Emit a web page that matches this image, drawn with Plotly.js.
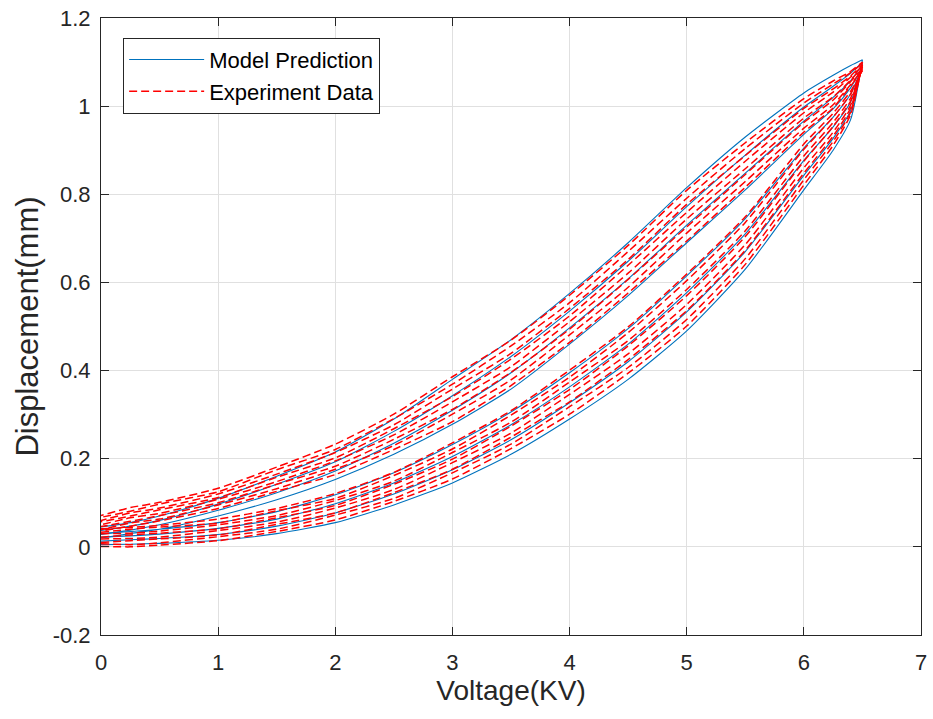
<!DOCTYPE html>
<html>
<head>
<meta charset="utf-8">
<script src="https://cdn.plot.ly/plotly-3.0.1.min.js"></script>
<style>html,body{margin:0;padding:0;background:#fff;}#chart{width:933px;height:719px;}</style>
</head>
<body>
<div id="chart"></div>
<script>
// Voltage grid (KV) shared by every branch
var xVolt = [0, 0.25, 0.5, 1, 1.5, 2, 2.5, 3, 3.5, 4, 4.5, 5, 5.5, 6, 6.25, 6.4, 6.5];

// Model prediction: ascending (lower) branches
var blueAsc1 = [0.005,0.006,0.008,0.015,0.030,0.055,0.095,0.145,0.210,0.290,0.380,0.490,0.630,0.810,0.900,0.970,1.105];
var blueAsc2 = [0.013,0.016,0.019,0.028,0.047,0.077,0.120,0.175,0.243,0.327,0.420,0.533,0.670,0.843,0.927,0.990,1.100];
var blueAsc3 = [0.022,0.025,0.029,0.042,0.063,0.098,0.145,0.205,0.277,0.363,0.460,0.577,0.710,0.877,0.953,1.010,1.095];
var blueAsc4 = [0.030,0.035,0.040,0.055,0.080,0.118,0.168,0.232,0.306,0.395,0.495,0.615,0.745,0.905,0.975,1.028,1.090];
// Model prediction: descending (upper) branches, listed at the same voltages
var blueDesc1 = [0.045,0.055,0.070,0.110,0.160,0.215,0.290,0.380,0.470,0.575,0.690,0.815,0.930,1.030,1.070,1.092,1.105];
var blueDesc2 = [0.037,0.047,0.060,0.097,0.142,0.193,0.262,0.343,0.432,0.535,0.648,0.772,0.889,0.998,1.045,1.075,1.100];
var blueDesc3 = [0.028,0.038,0.050,0.083,0.123,0.172,0.235,0.310,0.395,0.497,0.608,0.730,0.848,0.966,1.020,1.058,1.095];
var blueDesc4 = [0.020,0.030,0.040,0.070,0.107,0.153,0.210,0.278,0.358,0.460,0.570,0.690,0.810,0.936,0.994,1.042,1.090];

// Experiment data: ascending branches
var redAsc1 = [0.001,0.000,0.004,0.014,0.035,0.061,0.103,0.154,0.223,0.301,0.394,0.501,0.641,0.821,0.911,0.981,1.100];
var redAsc2 = [0.007,0.005,0.009,0.023,0.040,0.072,0.110,0.168,0.233,0.318,0.407,0.516,0.654,0.833,0.920,0.987,1.097];
var redAsc3 = [0.010,0.014,0.018,0.027,0.051,0.077,0.123,0.176,0.249,0.329,0.425,0.536,0.673,0.848,0.932,0.996,1.094];
var redAsc4 = [0.018,0.019,0.022,0.037,0.056,0.088,0.130,0.191,0.258,0.346,0.438,0.550,0.686,0.860,0.941,1.003,1.091];
var redAsc5 = [0.022,0.027,0.031,0.041,0.066,0.094,0.142,0.199,0.274,0.357,0.456,0.570,0.704,0.875,0.954,1.012,1.089];
var redAsc6 = [0.030,0.031,0.036,0.050,0.071,0.105,0.149,0.214,0.283,0.374,0.468,0.584,0.717,0.887,0.963,1.019,1.086];
var redAsc7 = [0.033,0.040,0.045,0.054,0.082,0.110,0.162,0.222,0.299,0.385,0.486,0.604,0.736,0.902,0.975,1.028,1.083];
var redAsc8 = [0.041,0.044,0.049,0.063,0.087,0.121,0.169,0.236,0.309,0.401,0.499,0.619,0.749,0.914,0.984,1.034,1.080];
// Experiment data: descending branches
var redDesc1 = [0.071,0.089,0.101,0.133,0.181,0.233,0.301,0.386,0.469,0.571,0.684,0.809,0.917,1.017,1.057,1.079,1.100];
var redDesc2 = [0.067,0.081,0.097,0.125,0.175,0.221,0.291,0.369,0.456,0.554,0.670,0.791,0.904,1.007,1.050,1.076,1.097];
var redDesc3 = [0.060,0.077,0.088,0.120,0.165,0.214,0.277,0.358,0.439,0.541,0.652,0.777,0.888,0.995,1.039,1.069,1.094];
var redDesc4 = [0.057,0.070,0.084,0.112,0.158,0.202,0.268,0.341,0.426,0.524,0.639,0.759,0.875,0.985,1.032,1.066,1.091];
var redDesc5 = [0.050,0.066,0.076,0.108,0.148,0.195,0.254,0.329,0.409,0.511,0.621,0.744,0.858,0.973,1.021,1.059,1.089];
var redDesc6 = [0.046,0.058,0.071,0.100,0.142,0.183,0.244,0.312,0.396,0.494,0.607,0.726,0.845,0.963,1.014,1.056,1.086];
var redDesc7 = [0.039,0.054,0.063,0.095,0.132,0.176,0.230,0.301,0.379,0.481,0.589,0.712,0.829,0.950,1.003,1.049,1.083];
var redDesc8 = [0.036,0.047,0.059,0.087,0.126,0.164,0.221,0.284,0.366,0.464,0.576,0.694,0.816,0.941,0.996,1.046,1.080];

var xTickVals = [0,1,2,3,4,5,6,7];
var xTickText = ['0','1','2','3','4','5','6','7'];
var yTickVals = [-0.2,0,0.2,0.4,0.6,0.8,1,1.2];
var yTickText = ['-0.2','0','0.2','0.4','0.6','0.8','1','1.2'];

function loopTrace(asc, desc, name, color, dash, width, first) {
  var xs = xVolt.concat(xVolt.slice().reverse());
  var ys = asc.concat(desc.slice().reverse());
  return {
    x: xs, y: ys, type: 'scatter', mode: 'lines', name: name,
    legendgroup: name, showlegend: first,
    line: {color: color, width: width, dash: dash, shape: 'spline', smoothing: 0.6}
  };
}

var blueA = [blueAsc1, blueAsc2, blueAsc3, blueAsc4];
var blueD = [blueDesc1, blueDesc2, blueDesc3, blueDesc4];
var redA = [redAsc1, redAsc2, redAsc3, redAsc4, redAsc5, redAsc6, redAsc7, redAsc8];
var redD = [redDesc1, redDesc2, redDesc3, redDesc4, redDesc5, redDesc6, redDesc7, redDesc8];

var traces = [];
for (var i = 0; i < blueA.length; i++) traces.push(loopTrace(blueA[i], blueD[i], 'Model Prediction', '#0072BD', 'solid', 1.1, i === 0));
for (var j = 0; j < redA.length; j++) traces.push(loopTrace(redA[j], redD[j], 'Experiment Data', '#FF0000', '8px,4px', 1.5, j === 0));

var FONT = 'Liberation Sans, Arial, sans-serif';
var axisCommon = {
  showline: true, linecolor: '#262626', linewidth: 1, mirror: 'ticks',
  ticks: 'inside', ticklen: 8, tickwidth: 1, tickcolor: '#262626',
  showgrid: true, gridcolor: '#e0e0e0', gridwidth: 1, zeroline: false,
  tickfont: {family: FONT, size: 22, color: '#262626'},
  automargin: false, fixedrange: true
};

var layout = {
  width: 933, height: 719,
  margin: {l: 101, r: 12, t: 18, b: 84},
  paper_bgcolor: '#ffffff', plot_bgcolor: '#ffffff',
  showlegend: true,
  xaxis: Object.assign({}, axisCommon, {
    range: [0, 7], tickmode: 'array', tickvals: xTickVals, ticktext: xTickText,
    ticklabelstandoff: 8,
    title: {text: 'Voltage(KV)', standoff: 3, font: {family: FONT, size: 28, color: '#262626'}}
  }),
  yaxis: Object.assign({}, axisCommon, {
    range: [-0.2, 1.2], tickmode: 'array', tickvals: yTickVals, ticktext: yTickText,
    ticklabelstandoff: 5,
    title: {text: 'Displacement(mm)', standoff: 4, font: {family: FONT, size: 31, color: '#262626'}}
  }),
  legend: {
    x: 0.027, y: 0.968, xanchor: 'left', yanchor: 'top',
    bgcolor: '#ffffff', bordercolor: '#262626', borderwidth: 1,
    font: {family: FONT, size: 22, color: '#000000'},
    itemwidth: 75, tracegroupgap: 0
  }
};

Plotly.newPlot('chart', traces, layout, {staticPlot: true, displayModeBar: false});
</script>
</body>
</html>
